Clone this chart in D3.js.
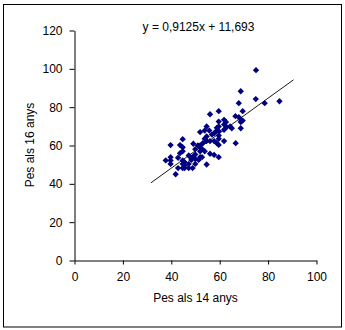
<!DOCTYPE html>
<html><head><meta charset="utf-8">
<script src="https://cdn.jsdelivr.net/npm/d3@7"></script>
<style>
html,body{margin:0;padding:0;background:#fff;}
text{font-family:"Liberation Sans",Arial,sans-serif;}
</style></head>
<body><svg id="c" width="345" height="330"></svg>
<script>
const xTicks = [0, 20, 40, 60, 80, 100];
const yTicks = [0, 20, 40, 60, 80, 100, 120];
const xTitle = "Pes als 14 anys";
const yTitle = "Pes als 16 anys";
const eqLabel = "y = 0,9125x + 11,693";
const slope = 0.9125, intercept = 11.693;
const trendRange = [31.6, 90.5];
const pes14 = [75.0,68.7,74.9,84.7,78.6,67.9,69.5,59.6,56.0,66.5,67.9,68.7,69.5,68.7,68.7,66.6,
  61.8,62.6,61.8,62.9,64.3,65.0,61.8,61.8,59.6,59.6,58.8,59.6,58.8,59.6,59.6,59.6,58.8,59.6,
  57.7,56.8,57.7,56.0,55.7,54.6,53.8,51.9,54.6,53.8,54.6,53.0,56.0,57.7,54.6,51.9,51.0,52.6,
  51.9,53.8,49.1,49.9,49.9,51.9,52.7,49.1,49.9,48.0,47.2,48.3,51.3,49.9,47.2,48.8,47.2,
  44.7,43.6,44.7,43.6,44.7,42.8,44.7,45.5,44.7,45.5,44.7,45.5,42.8,41.8,39.7,39.7,39.7,39.7,37.7];
const pes16 = [99.3,88.3,84.2,83.1,82.1,82.1,77.9,77.9,76.3,75.3,74.8,73.6,73.0,72.2,69.0,61.2,
  73.4,72.2,71.0,69.6,69.9,69.0,68.2,62.3,72.5,69.9,69.2,67.5,67.8,65.2,63.5,60.3,61.2,53.9,
  66.4,65.7,62.3,62.3,67.8,69.9,67.8,67.0,64.7,63.5,62.3,61.2,55.7,55.1,50.1,60.0,60.0,58.3,
  57.0,57.0,60.9,58.1,55.3,53.9,53.9,54.3,52.9,53.9,54.8,52.5,52.5,50.4,50.4,48.2,48.2,
  63.3,60.2,59.1,56.0,57.0,53.6,52.2,51.3,50.4,49.6,48.2,48.2,48.2,45.0,60.2,53.9,52.2,50.4,52.2];

const svg = d3.select("#c");
svg.append("rect").attr("x",3.5).attr("y",4.5).attr("width",338).attr("height",322.5)
  .attr("fill","#fff").attr("stroke","#000").attr("stroke-width",1);

const x = d3.scaleLinear().domain([0,100]).range([74.5,316.5]);
const y = d3.scaleLinear().domain([0,120]).range([260.5,30.5]);

const xAxis = svg.append("g").attr("transform","translate(0,260.5)")
  .call(d3.axisBottom(x).tickValues(xTicks).tickSize(4).tickPadding(8).tickSizeOuter(0));
const yAxis = svg.append("g").attr("transform","translate(74.5,0)")
  .call(d3.axisLeft(y).tickValues(yTicks).tickSize(5).tickPadding(7).tickSizeOuter(0));
[xAxis,yAxis].forEach(g=>{
  g.select(".domain").attr("stroke","#000").attr("stroke-width",1);
  g.selectAll(".tick line").attr("stroke","#000");
  g.selectAll("text").attr("font-size",12).attr("fill","#000")
   .attr("font-family","'Liberation Sans',Arial,sans-serif");
});

// trend line
svg.append("line")
  .attr("x1",x(trendRange[0])).attr("y1",y(slope*trendRange[0]+intercept))
  .attr("x2",x(trendRange[1])).attr("y2",y(slope*trendRange[1]+intercept))
  .attr("stroke","#000").attr("stroke-width",0.9);

// points
const pts = pes14.map((v,i)=>[v,pes16[i]]);
const sym = d3.symbol().type(d3.symbolSquare).size(20);
svg.append("g").selectAll("path").data(pts).join("path")
  .attr("d",sym)
  .attr("transform",d=>`translate(${x(d[0])},${y(d[1])}) rotate(45)`)
  .attr("fill","#000080");

svg.append("text").attr("x",198.5).attr("y",31).attr("text-anchor","middle")
  .attr("font-size",12).text(eqLabel);
svg.append("text").attr("x",195.5).attr("y",302).attr("text-anchor","middle")
  .attr("font-size",12).text(xTitle);
svg.append("text").attr("transform","translate(34,145) rotate(-90)").attr("text-anchor","middle")
  .attr("font-size",12).text(yTitle);
</script></body></html>
